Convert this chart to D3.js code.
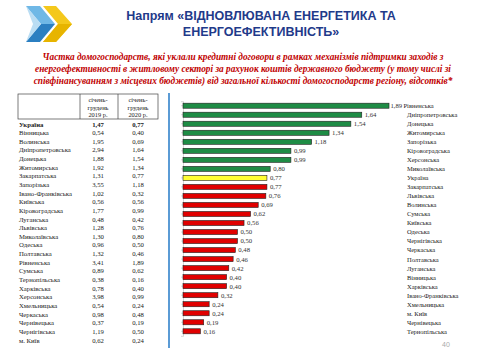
<!DOCTYPE html>
<html><head><meta charset="utf-8">
<script src="https://cdn.jsdelivr.net/npm/d3@7"></script>
<style>body{margin:0;background:#fff}svg{display:block}</style>
</head><body>
<script>
const titleLines = ["Напрям «ВІДНОВЛЮВАНА ЕНЕРГЕТИКА ТА", "ЕНЕРГОЕФЕКТИВНІСТЬ»"];
const subtitleLines = [
 "Частка домогосподарств, які уклали кредитні договори в рамках механізмів підтримки заходів з",
 "енергоефективності в житловому секторі за рахунок коштів державного бюджету (у тому числі зі",
 "співфінансуванням з місцевих бюджетів) від загальної кількості домогосподарств регіону, відсотків*"
];
const tableHeaders = [["січень-","грудень","2019 р."],["січень-","грудень","2020 р."]];
const tableRegions = ["Україна","Вінницька","Волинська","Дніпропетровська","Донецька","Житомирська","Закарпатська","Запорізька","Івано-Франківська","Київська","Кіровоградська","Луганська","Львівська","Миколаївська","Одеська","Полтавська","Рівненська","Сумська","Тернопільська","Харківська","Херсонська","Хмельницька","Черкаська","Чернівецька","Чернігівська","м. Київ"];
const values2019 = [1.47,0.54,1.95,2.94,1.88,1.92,1.31,3.55,1.02,0.56,1.77,0.48,1.28,1.30,0.96,1.32,3.41,0.89,0.38,0.78,3.98,0.54,0.98,0.37,1.19,0.62];
const values2020 = [0.77,0.40,0.69,1.64,1.54,1.34,0.77,1.18,0.32,0.56,0.99,0.42,0.76,0.80,0.50,0.46,1.89,0.62,0.16,0.40,0.99,0.24,0.48,0.19,0.50,0.24];
const barRegions = ["Рівненська","Дніпропетровська","Донецька","Житомирська","Запорізька","Кіровоградська","Херсонська","Миколаївська","Україна","Закарпатська","Львівська","Волинська","Сумська","Київська","Одеська","Чернігівська","Черкаська","Полтавська","Луганська","Вінницька","Харківська","Івано-Франківська","Хмельницька","м. Київ","Чернівецька","Тернопільська"];
const barValues = [1.89,1.64,1.54,1.34,1.18,0.99,0.99,0.80,0.77,0.77,0.76,0.69,0.62,0.56,0.50,0.50,0.48,0.46,0.42,0.40,0.40,0.32,0.24,0.24,0.19,0.16];
const pageNumber = "40";

const fmt = v => d3.format(".2f")(v).replace(".", ",");
const W = 480, H = 360;
const svg = d3.select("body").append("svg").attr("width", W).attr("height", H);

// logo
const logo = svg.append("g");
logo.append("polygon").attr("points","26,6 40,6 55,24 41,24").attr("fill","#6fb8e6");
logo.append("polygon").attr("points","41,24 55,24 40,42 26,42").attr("fill","#2b7fc1");
logo.append("polygon").attr("points","26,6 41,24 26,42 33,24").attr("fill","#a9d4f0").attr("opacity",0.8);
logo.append("polygon").attr("points","43,6 56,6 72,24 56,42 43,42 58,24").attr("fill","#f4c81c");
logo.append("polygon").attr("points","56,42 72,24 58,24 43,42").attr("fill","#e7b400");

// title
svg.append("g").selectAll("text").data(titleLines).join("text")
  .attr("x", 261).attr("y", (d,i) => 20 + i*15.5)
  .attr("text-anchor","middle")
  .attr("font-family","Liberation Sans, Arial, sans-serif")
  .attr("font-weight","bold").attr("font-size", 12.5)
  .attr("fill","#1f3a8a").text(d => d);

// subtitle
svg.append("g").selectAll("text").data(subtitleLines).join("text")
  .attr("x", 243).attr("y", (d,i) => 60 + i*11.8)
  .attr("text-anchor","middle")
  .attr("font-family","Liberation Serif, Times New Roman, serif")
  .attr("font-weight","bold").attr("font-style","italic").attr("font-size", 9.3)
  .attr("fill","#c00000").text(d => d);

// table
const tbl = svg.append("g");
const tx0 = 18, tx1 = 80, tx2 = 118, tx3 = 158, ty0 = 94, ty1 = 119;
tbl.append("rect").attr("x",tx0).attr("y",ty0).attr("width",tx3-tx0).attr("height",ty1-ty0)
  .attr("fill","none").attr("stroke","#444").attr("stroke-width",0.7);
[tx1, tx2].forEach(x => tbl.append("line").attr("x1",x).attr("x2",x).attr("y1",ty0).attr("y2",ty1).attr("stroke","#444").attr("stroke-width",0.7));
const colCenters = [98, 138];
tableHeaders.forEach((lines, c) => {
  tbl.append("g").selectAll("text").data(lines).join("text")
    .attr("x", colCenters[c]).attr("y", (d,i) => 102 + i*7.6)
    .attr("text-anchor","middle").attr("font-family","Liberation Serif, serif")
    .attr("font-size", 6.4).attr("fill","#222").text(d => d);
});
const rowY = d3.scalePoint().domain(tableRegions).range([126.5, 342.5]);
const rows = tbl.append("g").selectAll("g").data(tableRegions).join("g")
  .attr("transform", d => `translate(0,${rowY(d)})`)
  .attr("font-family","Liberation Serif, serif").attr("font-size", 6.7).attr("fill","#222")
  .attr("font-weight", (d,i) => i === 0 ? "bold" : "normal");
rows.append("text").attr("x", 19).text(d => d);
rows.append("text").attr("x", colCenters[0]).attr("text-anchor","middle").text((d,i) => fmt(values2019[i]));
rows.append("text").attr("x", colCenters[1]).attr("text-anchor","middle").text((d,i) => fmt(values2020[i]));

// blue vertical separator
svg.append("line").attr("x1",169).attr("x2",169).attr("y1",93).attr("y2",348)
  .attr("stroke","#5b9bd5").attr("stroke-width",2);

// bars
const x = d3.scaleLinear().domain([0, 2]).range([183, 401]);
const y = d3.scaleBand().domain(barRegions).range([101.2, 335.8]).paddingInner(0.44).paddingOuter(0.22);
const axis = d3.axisLeft(y).tickSize(2).tickFormat("");
const ag = svg.append("g").attr("transform", `translate(${x(0)},0)`).call(axis);
ag.selectAll("path,line").attr("stroke","#bbb").attr("stroke-width",0.6);
const ukr = barValues[barRegions.indexOf("Україна")];
const color = (d,i) => barRegions[i] === "Україна" ? "#ffff33" : (barValues[i] > ukr ? "#1e8c45" : "#e00000");
const bars = svg.append("g").selectAll("g").data(barRegions).join("g");
bars.append("rect")
  .attr("x", x(0)).attr("y", d => y(d))
  .attr("width", (d,i) => x(barValues[i]) - x(0)).attr("height", y.bandwidth())
  .attr("fill", color).attr("stroke","#222").attr("stroke-width",0.6);
bars.append("text")
  .attr("x", (d,i) => x(barValues[i]) + (i === 0 ? 1.5 : 3)).attr("y", d => y(d) + y.bandwidth()/2 + 2.4)
  .attr("font-family","Liberation Serif, serif").attr("font-size",6.7).attr("fill","#333")
  .text((d,i) => fmt(barValues[i]));
bars.append("text")
  .attr("x", (d,i) => i === 0 ? 403.5 : 407).attr("y", d => y(d) + y.bandwidth()/2 + 2.4)
  .attr("font-family","Liberation Serif, serif").attr("font-size",6.5).attr("fill","#222")
  .text(d => d);

// page number
svg.append("text").attr("x", 446).attr("y", 347).attr("text-anchor","middle")
  .attr("font-family","Liberation Sans, sans-serif").attr("font-size",7).attr("fill","#aaa").text(pageNumber);
</script>
</body></html>
